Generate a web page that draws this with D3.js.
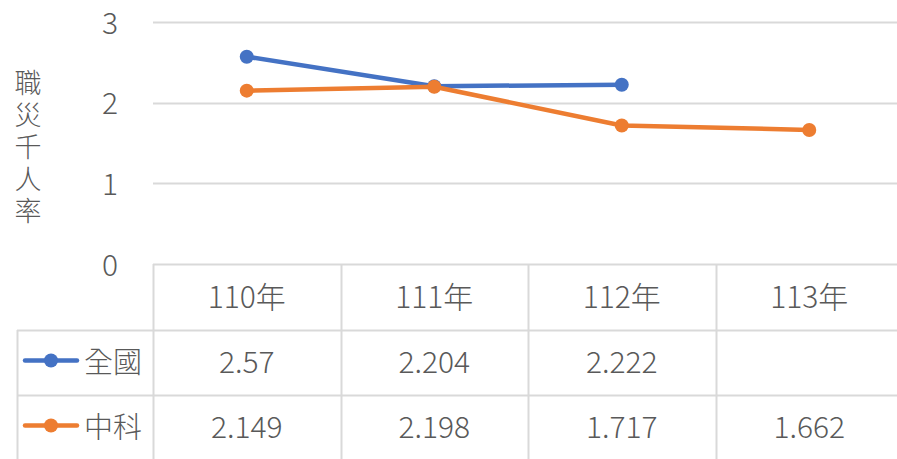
<!DOCTYPE html>
<html>
<head>
<meta charset="utf-8">
<script src="https://cdn.jsdelivr.net/npm/d3@7"></script>
<style>
  body { margin: 0; background: #fff; }
  svg { display: block; }
  text { font-family: "Noto Sans CJK TC", "Noto Sans", sans-serif; fill: #595959; font-weight: 300; }
</style>
</head>
<body>
<script>
// chart data
const years = ["110年", "111年", "112年", "113年"]
const seriesNames = ["全國", "中科"]
const national = [2.57, 2.204, 2.222, null]
const ctsp = [2.149, 2.198, 1.717, 1.662]
const nationalLabels = ["2.57", "2.204", "2.222", ""]
const ctspLabels = ["2.149", "2.198", "1.717", "1.662"]
const yTicks = [0, 1, 2, 3]
const yTitle = "職災千人率"

const width = 897
const height = 459
const colors = ["#4472C4", "#ED7D31"]
const gridColor = "#D9D9D9"

const svg = d3.select("body").append("svg")
    .attr("width", width)
    .attr("height", height)

const plotLeft = 153
const plotRight = 903
const plotTop = 22
const plotBottom = 264
const headerH = 66
const rowH = 65
const tableLeft = 17

let x = d3.scaleBand().domain(years).range([plotLeft, plotRight])
let y = d3.scaleLinear().domain([0, 3]).range([plotBottom, plotTop])

// gridlines
svg.append("g").selectAll("line")
    .data(yTicks.filter(d => d > 0)).enter()
    .append("line")
        .attr("x1", plotLeft)
        .attr("x2", width)
        .attr("y1", d => Math.round(y(d)) + 0.5)
        .attr("y2", d => Math.round(y(d)) + 0.5)
        .attr("stroke", gridColor)
        .attr("stroke-width", 2)

// y tick labels
svg.append("g").selectAll("text")
    .data(yTicks).enter()
    .append("text")
        .attr("x", 110)
        .attr("y", d => y(d) + 1)
        .attr("dy", "0.35em")
        .attr("text-anchor", "middle")
        .style("font-size", "30px")
        .text(d => d)

// y title, written top to bottom
svg.append("text")
    .attr("x", 28)
    .attr("y", 149)
    .attr("text-anchor", "middle")
    .style("writing-mode", "vertical-rl")
    .style("text-orientation", "upright")
    .style("letter-spacing", "5px")
    .style("font-size", "27px")
    .text(yTitle)

// data table lines
const table = svg.append("g")
const rowLines = [plotBottom, plotBottom + headerH, plotBottom + headerH + rowH]
table.selectAll("line.h")
    .data(rowLines).enter()
    .append("line")
        .attr("class", "h")
        .attr("x1", (d, i) => i === 0 ? plotLeft : tableLeft)
        .attr("x2", width)
        .attr("y1", d => d + 0.5)
        .attr("y2", d => d + 0.5)
        .attr("stroke", gridColor)
        .attr("stroke-width", 2)

const colEdges = years.map(d => x(d)).concat([plotRight])
table.selectAll("line.v")
    .data(colEdges).enter()
    .append("line")
        .attr("class", "v")
        .attr("x1", d => Math.round(d) + 0.5)
        .attr("x2", d => Math.round(d) + 0.5)
        .attr("y1", plotBottom)
        .attr("y2", height)
        .attr("stroke", gridColor)
        .attr("stroke-width", 2)
table.append("line")
    .attr("x1", tableLeft + 0.5).attr("x2", tableLeft + 0.5)
    .attr("y1", plotBottom + headerH).attr("y2", height)
    .attr("stroke", gridColor).attr("stroke-width", 2)

// header
table.selectAll("text.year")
    .data(years).enter()
    .append("text")
        .attr("class", "year")
        .attr("x", d => x(d) + x.bandwidth() / 2)
        .attr("y", plotBottom + headerH / 2)
        .attr("dy", "0.36em")
        .attr("text-anchor", "middle")
        .style("font-size", "30px")
        .text(d => d)

// value rows
const rows = [nationalLabels, ctspLabels]
rows.forEach((labels, r) => {
    const cy = plotBottom + headerH + r * rowH + rowH / 2
    table.selectAll("text.v" + r)
        .data(labels).enter()
        .append("text")
            .attr("class", "v" + r)
            .attr("x", (d, i) => x(years[i]) + x.bandwidth() / 2)
            .attr("y", cy)
            .attr("dy", "0.36em")
            .attr("text-anchor", "middle")
            .style("font-size", "30px")
            .text(d => d)

    // legend key
    const key = table.append("g")
    key.append("line")
        .attr("x1", 25).attr("x2", 77)
        .attr("y1", cy - 2).attr("y2", cy - 2)
        .attr("stroke", colors[r])
        .attr("stroke-width", 4.5)
        .attr("stroke-linecap", "round")
    key.append("circle")
        .attr("cx", 51).attr("cy", cy - 2).attr("r", 7)
        .attr("fill", colors[r])
    key.append("text")
        .attr("x", 84)
        .attr("y", cy)
        .attr("dy", "0.36em")
        .style("font-size", "29px")
        .text(seriesNames[r])
})

// lines and markers
const allSeries = [national, ctsp]
let line = d3.line()
    .defined(d => d != null)
    .x((d, i) => x(years[i]) + x.bandwidth() / 2)
    .y(d => y(d))

allSeries.forEach((vals, s) => {
    const g = svg.append("g")
    g.append("path")
        .datum(vals)
        .attr("d", line)
        .attr("fill", "none")
        .attr("stroke", colors[s])
        .attr("stroke-width", 4.5)
        .attr("stroke-linejoin", "round")
        .attr("stroke-linecap", "round")
    g.selectAll("circle")
        .data(vals.map((v, i) => ({ v: v, i: i })).filter(d => d.v != null)).enter()
        .append("circle")
            .attr("cx", d => x(years[d.i]) + x.bandwidth() / 2)
            .attr("cy", d => y(d.v))
            .attr("r", 7)
            .attr("fill", colors[s])
})
</script>
</body>
</html>
